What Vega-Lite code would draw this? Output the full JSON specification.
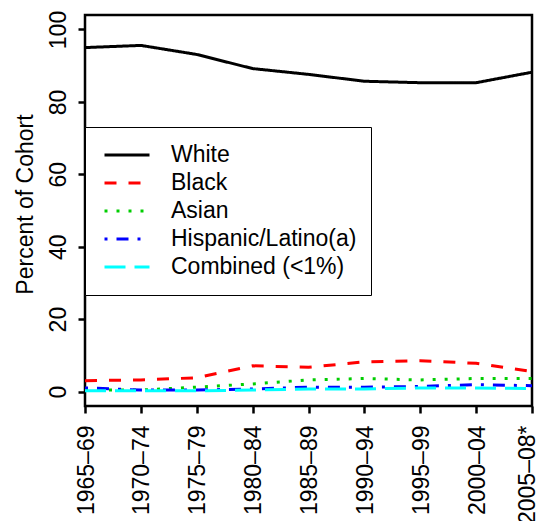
{
  "$schema": "https://vega.github.io/schema/vega-lite/v6.json",
  "width": 447,
  "height": 391,
  "autosize": {"type": "none"},
  "padding": {"left": 85, "top": 15, "right": 7, "bottom": 115},
  "background": "white",
  "config": {
    "font": "Liberation Sans",
    "view": {"stroke": "black", "strokeWidth": 2.5},
    "axis": {"grid": false, "domain": false, "tickColor": "black", "tickWidth": 2.5, "tickSize": 7, "labelColor": "black", "labelFontSize": 23, "labelFont": "Liberation Sans", "titleFont": "Liberation Sans", "titleFontWeight": "normal", "titleColor": "black", "labelOverlap": false, "labelBound": false, "labelFlush": false}
  },
  "data": {
    "values": [
      {"series": "White", "period": "1965–69", "value": 95.0},
      {"series": "White", "period": "1970–74", "value": 95.6},
      {"series": "White", "period": "1975–79", "value": 93.1},
      {"series": "White", "period": "1980–84", "value": 89.2},
      {"series": "White", "period": "1985–89", "value": 87.6},
      {"series": "White", "period": "1990–94", "value": 85.7},
      {"series": "White", "period": "1995–99", "value": 85.3},
      {"series": "White", "period": "2000–04", "value": 85.3},
      {"series": "White", "period": "2005–08*", "value": 88.2},
      {"series": "Black", "period": "1965–69", "value": 3.0},
      {"series": "Black", "period": "1970–74", "value": 3.2},
      {"series": "Black", "period": "1975–79", "value": 3.8},
      {"series": "Black", "period": "1980–84", "value": 7.1},
      {"series": "Black", "period": "1985–89", "value": 6.7},
      {"series": "Black", "period": "1990–94", "value": 8.2},
      {"series": "Black", "period": "1995–99", "value": 8.5},
      {"series": "Black", "period": "2000–04", "value": 7.8},
      {"series": "Black", "period": "2005–08*", "value": 5.5},
      {"series": "Asian", "period": "1965–69", "value": 0.4},
      {"series": "Asian", "period": "1970–74", "value": 0.4},
      {"series": "Asian", "period": "1975–79", "value": 1.2},
      {"series": "Asian", "period": "1980–84", "value": 2.1},
      {"series": "Asian", "period": "1985–89", "value": 3.2},
      {"series": "Asian", "period": "1990–94", "value": 3.6},
      {"series": "Asian", "period": "1995–99", "value": 3.2},
      {"series": "Asian", "period": "2000–04", "value": 3.6},
      {"series": "Asian", "period": "2005–08*", "value": 3.6},
      {"series": "Hispanic/Latino(a)", "period": "1965–69", "value": 1.0},
      {"series": "Hispanic/Latino(a)", "period": "1970–74", "value": 0.4},
      {"series": "Hispanic/Latino(a)", "period": "1975–79", "value": 0.4},
      {"series": "Hispanic/Latino(a)", "period": "1980–84", "value": 0.7},
      {"series": "Hispanic/Latino(a)", "period": "1985–89", "value": 1.2},
      {"series": "Hispanic/Latino(a)", "period": "1990–94", "value": 1.2},
      {"series": "Hispanic/Latino(a)", "period": "1995–99", "value": 1.4},
      {"series": "Hispanic/Latino(a)", "period": "2000–04", "value": 1.9},
      {"series": "Hispanic/Latino(a)", "period": "2005–08*", "value": 1.6},
      {"series": "Combined (<1%)", "period": "1965–69", "value": 0.2},
      {"series": "Combined (<1%)", "period": "1970–74", "value": 0.2},
      {"series": "Combined (<1%)", "period": "1975–79", "value": 0.2},
      {"series": "Combined (<1%)", "period": "1980–84", "value": 0.4},
      {"series": "Combined (<1%)", "period": "1985–89", "value": 0.7},
      {"series": "Combined (<1%)", "period": "1990–94", "value": 0.7},
      {"series": "Combined (<1%)", "period": "1995–99", "value": 1.0},
      {"series": "Combined (<1%)", "period": "2000–04", "value": 1.0},
      {"series": "Combined (<1%)", "period": "2005–08*", "value": 0.8}
    ]
  },
  "mark": {"type": "line", "strokeWidth": 3, "clip": true},
  "encoding": {
    "x": {
      "field": "period", "type": "ordinal", "sort": null,
      "scale": {"type": "point", "padding": 0},
      "axis": {"title": null, "labelAngle": 270, "labelAlign": "right", "labelBaseline": "middle", "labelPadding": 12, "labelOffset": {"expr": "datum.value == '2005–08*' ? -5 : 1"}}
    },
    "y": {
      "field": "value", "type": "quantitative",
      "scale": {"domain": [-4, 104], "nice": false, "zero": false},
      "axis": {"title": "Percent of Cohort", "values": [0, 20, 40, 60, 80, 100], "labelAngle": 270, "labelAlign": "center", "labelBaseline": "alphabetic", "labelPadding": 13, "titleFontSize": 23, "titleBaseline": "alphabetic", "titleX": -53, "titleY": 189, "titleAngle": 270}
    },
    "color": {
      "field": "series", "type": "nominal",
      "scale": {"domain": ["White", "Black", "Asian", "Hispanic/Latino(a)", "Combined (<1%)"], "range": ["#000000", "#FF0000", "#00CD00", "#0000FF", "#00FFFF"]},
      "legend": {"title": null, "orient": "none", "legendX": 0, "legendY": 112, "symbolType": "stroke", "symbolStrokeWidth": 3, "symbolSize": 2025, "symbolOffset": 4, "labelOffset": 20, "labelFontSize": 23, "labelColor": "black", "labelFont": "Liberation Sans", "clipHeight": 28, "rowPadding": 0, "padding": 14, "strokeColor": "black", "fillColor": "white", "labelLimit": 400}
    },
    "strokeDash": {
      "field": "series", "type": "nominal",
      "scale": {"domain": ["White", "Black", "Asian", "Hispanic/Latino(a)", "Combined (<1%)"], "range": [[1, 0], [12, 12], [3, 9], [3, 9, 12, 9], [21, 9]]},
      "legend": {"title": null, "orient": "none", "legendX": 0, "legendY": 112, "symbolType": "stroke", "symbolStrokeWidth": 3, "symbolSize": 2025, "symbolOffset": 4, "labelOffset": 20, "labelFontSize": 23, "labelColor": "black", "labelFont": "Liberation Sans", "clipHeight": 28, "rowPadding": 0, "padding": 14, "strokeColor": "black", "fillColor": "white", "labelLimit": 400}
    }
  }
}
